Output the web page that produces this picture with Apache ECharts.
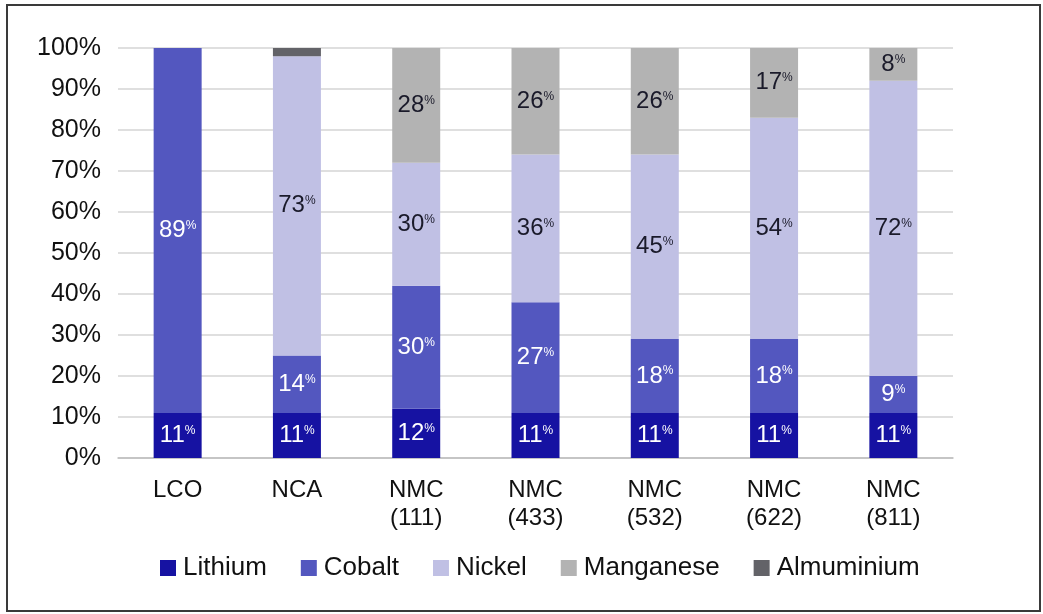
<!DOCTYPE html>
<html>
<head>
<meta charset="utf-8">
<script src="https://cdn.jsdelivr.net/npm/echarts@6/dist/echarts.min.js"></script>
<style>
html,body{margin:0;padding:0;background:#fff;}
#chart{width:1043px;height:614px;}
</style>
</head>
<body>
<div id="chart"></div>
<script>
var categories=['LCO','NCA','NMC\n(111)','NMC\n(433)','NMC\n(532)','NMC\n(622)','NMC\n(811)'];
var lithium=[11,11,12,11,11,11,11];
var cobalt=[89,14,30,27,18,18,9];
var nickel=[0,73,30,36,45,54,72];
var manganese=[0,0,28,26,26,17,8];
var aluminium=[0,2,0,0,0,0,0];
var yTicks=[0,10,20,30,40,50,60,70,80,90,100];

var font='"Liberation Sans", Arial, sans-serif';

// label with small raised % sign
function pctLabel(color){
	return {
		show:true,
		position:'inside',
		formatter:function(p){
			if(!p.value){return '';}
			return '{n|'+p.value+'}{p|%}';
		},
		rich:{
			n:{fontSize:24,color:color,fontFamily:font,letterSpacing:-1.5},
			p:{fontSize:12,color:color,fontFamily:font,padding:[0,0,10,0]}
		}
	};
}

function makeSeries(name,data,color,labelColor){
	var s={
		name:name,
		type:'bar',
		stack:'total',
		barWidth:48,
		data:data,
		itemStyle:{color:color},
		emphasis:{disabled:true}
	};
	if(labelColor){
		s.label=pctLabel(labelColor);
	}
	return s;
}

var myChart=echarts.init(document.getElementById('chart'));
var option={
	animation:false,
	textStyle:{fontFamily:font},
	grid:{left:118,right:90,top:48,bottom:156},
	legend:{
		bottom:28,
		left:155,
		icon:'rect',
		itemWidth:16,
		itemHeight:16,
		itemGap:34,
		textStyle:{fontSize:26,color:'#111',fontFamily:font,padding:[0,0,0,2]},
		data:['Lithium','Cobalt','Nickel','Manganese','Almuminium']
	},
	xAxis:{
		type:'category',
		data:categories,
		axisLine:{lineStyle:{color:'#bdbdbd',width:1.5}},
		axisTick:{show:false},
		axisLabel:{fontSize:24,color:'#111',lineHeight:28,margin:18,fontFamily:font}
	},
	yAxis:{
		type:'value',
		min:0,
		max:100,
		interval:10,
		axisLine:{show:false},
		axisTick:{show:false},
		splitLine:{lineStyle:{color:'#d4d4d4',width:1.5}},
		axisLabel:{
			fontSize:25,color:'#111',margin:17,fontFamily:font,
			formatter:function(v){return yTicks.indexOf(v)>=0?v+'%':'';}
		}
	},
	graphic:[{
		type:'rect',
		shape:{x:7,y:5,width:1033,height:606},
		style:{fill:null,stroke:'#3a3a3a',lineWidth:2},
		silent:true
	}],
	series:[
		makeSeries('Lithium',lithium,'#1612a2','#ffffff'),
		makeSeries('Cobalt',cobalt,'#5357bf','#ffffff'),
		makeSeries('Nickel',nickel,'#c0c0e4','#1a1a2a'),
		makeSeries('Manganese',manganese,'#b3b3b3','#1a1a2a'),
		makeSeries('Almuminium',aluminium,'#636368',null)
	]
};
myChart.setOption(option);
</script>
</body>
</html>
